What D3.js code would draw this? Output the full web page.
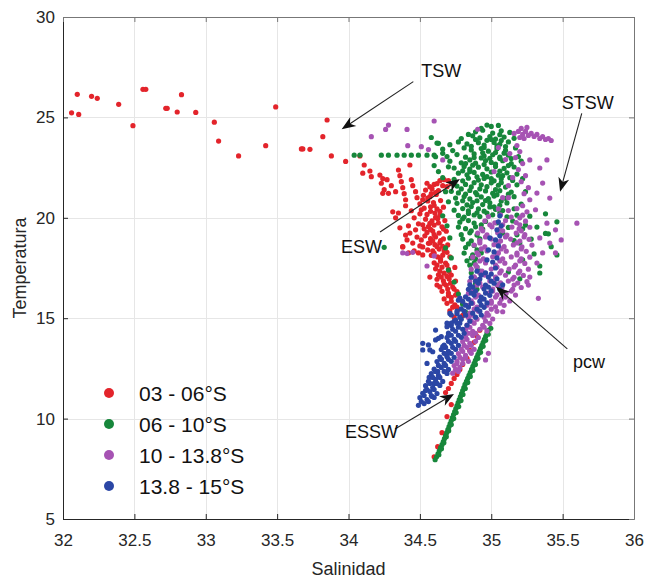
<!DOCTYPE html>
<html>
<head>
<meta charset="utf-8">
<script src="https://cdn.jsdelivr.net/npm/d3@7"></script>
<style>
  body { margin: 0; background: #fff; }
  text { font-family: "Liberation Sans", Arial, Helvetica, sans-serif; }
</style>
</head>
<body>
<svg id="chart" width="645" height="578"></svg>
<script>
// Axis ticks
const salinityTicks = [32, 32.5, 33, 33.5, 34, 34.5, 35, 35.5, 36];
const temperatureTicks = [5, 10, 15, 20, 25, 30];

// Latitude bands shown in the legend
const bandLabels = ["03 - 06°S", "06 - 10°S", "10 - 13.8°S", "13.8 - 15°S"];
const bandColors = ["#e3242b", "#17873b", "#a653b3", "#2b46a5"];

// [salinity, temperature] observations, 03 - 06°S
const band03to06 = [
  [32.06,25.23],[32.10,26.15],[32.11,25.15],[32.20,26.05],[32.24,25.95],[32.39,25.65],[32.49,24.59],
  [32.56,26.40],[32.58,26.40],[32.72,25.45],[32.73,25.45],[32.80,25.27],[32.83,26.13],[32.93,25.25],
  [33.06,24.76],[33.09,23.82],[33.23,23.08],[33.42,23.59],[33.49,25.52],[33.67,23.43],[33.68,23.43],
  [33.73,23.41],[33.82,24.04],[33.85,24.87],[33.88,23.08],[33.98,22.81],
  [34.08,23.08],[34.11,22.63],[34.10,22.22],[34.15,22.33],[34.16,22.05],[34.22,22.13],[34.24,21.95],
  [34.23,21.72],[34.25,21.40],[34.24,21.22],[34.28,21.22],[34.27,21.90],[34.30,21.60],[34.33,21.30],
  [34.35,22.38],[34.36,22.10],[34.37,21.80],[34.38,21.50],[34.39,21.20],[34.40,20.90],[34.43,22.63],
  [34.44,21.90],[34.45,21.60],[34.47,21.30],[34.48,21.00],[34.50,20.70],[34.51,20.40],
  [34.31,20.30],[34.35,20.24],[34.33,20.00],[34.40,19.14],[34.41,18.90],[34.38,18.56],[34.43,19.24],
  [34.45,18.74],[34.48,19.04],[34.42,18.25],[34.49,18.25],[34.52,18.55],[34.57,18.75],[34.51,18.90],
  [34.42,19.60],[34.46,20.00],[34.49,19.70],[34.36,19.50],[34.38,18.55],[34.52,18.15],[34.57,17.05],
  [34.62,16.65],[34.47,19.40],[34.44,20.35],[34.40,20.60],[34.53,19.45],[34.50,18.60],[34.46,18.35],
  [34.55,21.72],[34.60,21.66],[34.54,21.38],[34.585,21.45],[34.63,21.35],[34.525,21.12],[34.57,21.05],
  [34.615,21.16],[34.555,20.84],[34.595,20.76],[34.645,20.86],[34.53,20.48],[34.575,20.55],[34.62,20.44],
  [34.665,20.53],[34.55,20.17],[34.605,20.24],[34.64,20.13],[34.54,19.93],[34.585,19.85],[34.625,19.95],
  [34.675,19.86],[34.56,19.56],[34.60,19.64],[34.655,19.55],[34.55,19.27],[34.59,19.34],[34.635,19.24],
  [34.685,19.33],[34.575,18.96],[34.61,19.05],[34.665,18.95],[34.56,18.73],[34.605,18.66],[34.64,18.75],
  [34.695,18.65],[34.59,18.36],[34.635,18.44],[34.67,18.35],[34.58,18.13],[34.625,18.05],[34.66,18.14],
  [34.71,18.06],[34.60,17.76],[34.645,17.84],[34.68,17.75],[34.61,17.46],[34.655,17.54],[34.70,17.45],
  [34.745,17.53],[34.63,17.16],[34.67,17.24],[34.72,17.15],[34.62,16.94],[34.665,16.86],[34.705,16.95],
  [34.75,16.85],[34.64,16.56],[34.685,16.64],[34.73,16.55],[34.655,16.34],[34.70,16.25],[34.76,16.33],
  [34.67,15.96],[34.72,16.04],[34.78,15.95],[34.69,15.74],[34.745,15.66],[34.80,15.75],[34.71,15.36],
  [34.77,15.44],[34.74,15.06],[34.80,15.14],
  [34.57,21.55],[34.61,21.25],[34.555,20.98],[34.60,20.62],[34.64,20.32],[34.575,20.32],[34.61,20.02],
  [34.57,19.72],[34.63,19.74],[34.575,19.42],[34.665,19.44],[34.60,19.16],[34.645,18.86],[34.59,18.85],
  [34.62,18.56],[34.66,18.58],[34.60,18.24],[34.69,18.28],[34.645,17.95],[34.62,17.64],[34.69,17.65],
  [34.64,17.34],[34.705,17.32],[34.65,17.05],[34.69,17.08],[34.67,16.72],[34.715,16.74],[34.695,16.45],
  [34.74,16.45],[34.70,16.12],[34.75,16.15],[34.72,15.85],[34.76,15.55],[34.73,15.55],[34.58,21.20],
  [34.52,20.90],[34.50,20.20],[34.52,19.65],[34.535,19.10],[34.555,18.40],
  [34.64,21.85],[34.67,21.90],[34.70,21.85],[34.72,21.70],[34.66,21.60],[34.69,21.55],[34.62,21.70],
  [34.68,11.30],[34.70,11.50],[34.72,11.75],[34.74,12.00],[34.76,12.20],[34.78,12.45],[34.80,12.70],
  [34.83,13.00],[34.85,13.40],[34.88,13.80],[34.90,14.10],[34.92,14.40],[34.60,8.10],[34.625,8.60],
  [34.655,9.30],[34.69,10.10],[34.72,10.70]
];

// [salinity, temperature] observations, 06 - 10°S
const band06to10 = [
  [34.04,23.12],[34.08,23.12],[34.23,23.12],[34.28,23.12],[34.34,23.12],[34.39,23.12],[34.44,23.12],
  [34.49,23.12],[34.55,23.12],[34.60,23.12],[34.25,18.53],
  [34.63,23.71],[34.61,23.04],[34.66,23.21],[34.70,22.54],
  [34.97,24.62],[35.00,24.55],[35.05,24.60],[34.93,24.45],
  [34.89,24.28],[34.94,24.36],[35.01,24.22],[35.07,24.33],[35.13,24.25],[34.84,24.15],
  [34.58,24.00],[34.79,23.95],[34.87,24.08],[34.92,23.98],[34.99,24.05],[35.03,23.92],[35.09,24.02],[35.16,23.96],
  [34.62,23.72],[34.71,23.64],[34.77,23.78],[34.83,23.68],[34.91,23.74],[34.95,23.62],[35.02,23.75],[35.06,23.66],[35.12,23.78],
  [34.66,23.42],[34.73,23.35],[34.81,23.48],[34.86,23.38],[34.93,23.45],[34.98,23.32],[35.04,23.44],[35.10,23.36],[35.17,23.48],
  [34.69,23.05],[34.76,23.15],[34.82,23.02],[34.88,23.18],[34.95,23.08],[35.01,23.14],[35.06,23.02],[35.12,23.12],[35.19,23.05],
  [34.71,22.82],[34.79,22.74],[34.85,22.88],[34.89,22.72],[34.96,22.85],[35.00,22.76],[35.08,22.84],[35.14,22.70],[35.21,22.82],
  [34.74,22.48],[34.81,22.56],[34.85,22.42],[34.91,22.52],[34.97,22.44],[35.03,22.55],[35.09,22.46],[35.16,22.53],
  [34.77,22.22],[34.83,22.14],[34.88,22.26],[34.94,22.16],[35.00,22.28],[35.05,22.12],[35.11,22.24],[35.18,22.18],
  [34.74,21.92],[34.80,21.84],[34.84,21.97],[34.91,21.88],[34.95,21.96],[35.02,21.84],[35.07,21.94],[35.15,21.86],[35.22,21.95],
  [34.76,21.58],[34.82,21.66],[34.86,21.54],[34.93,21.64],[34.97,21.55],[35.05,21.62],[35.10,21.53],[35.18,21.64],
  [34.72,21.32],[34.77,21.24],[34.85,21.36],[34.89,21.26],[34.96,21.34],[35.01,21.22],[35.06,21.35],[35.14,21.28],[35.24,21.30],
  [34.75,20.98],[34.81,21.06],[34.85,20.94],[34.93,21.04],[34.98,20.95],[35.02,21.08],[35.10,20.97],[35.16,21.05],
  [34.76,20.72],[34.83,20.64],[34.87,20.76],[34.94,20.66],[34.99,20.75],[35.06,20.62],[35.11,20.74],[35.21,20.68],
  [34.74,20.38],[34.80,20.46],[34.84,20.35],[34.91,20.44],[34.95,20.33],[35.03,20.42],[35.08,20.36],[35.16,20.45],
  [34.77,20.12],[34.81,20.04],[34.88,20.14],[34.92,20.06],[35.01,20.15],[35.11,20.05],[35.18,20.13],[35.27,20.08],
  [34.78,19.78],[34.84,19.86],[34.88,19.74],[34.96,19.82],[35.04,19.75],[35.15,19.84],[35.46,19.80],
  [34.77,19.54],[34.82,19.46],[34.89,19.55],[34.94,19.44],[35.12,19.52],[35.22,19.45],[35.32,19.54],
  [34.79,19.16],[34.85,19.25],[34.90,19.14],[35.08,19.24],[35.18,19.15],[35.38,19.22],
  [34.80,18.94],[34.86,18.85],[34.92,18.95],[35.16,18.86],[35.28,18.94],
  [34.82,18.52],[34.88,18.62],[35.42,18.56],
  [34.81,18.24],[34.87,18.15],[34.93,18.25],[35.30,18.20],
  [34.83,17.86],[34.89,17.95],[35.22,17.90],
  [34.85,17.64],[34.90,17.55],[35.34,17.60],
  [34.86,17.26],[34.92,17.35],[35.12,17.30],
  [34.88,17.04],[35.20,16.96],[34.89,16.72],[35.05,16.66],[34.90,16.44],
  [34.86,23.56],[34.94,23.24],[35.04,23.58],[34.99,22.96],[34.87,22.62],[34.93,22.98],[35.06,22.32],
  [34.80,22.34],[34.90,22.04],[35.00,21.74],[34.79,21.44],[34.92,21.44],[35.03,21.40],[34.82,21.18],
  [34.96,20.86],[35.07,20.84],[34.86,20.56],[34.99,20.54],[34.84,20.22],[34.97,20.24],[35.12,21.18],
  [35.13,22.00],[35.03,22.68],[35.09,23.22],[34.97,23.86],[35.06,24.14],
  [34.89,23.90],[34.95,23.50],[35.00,23.90],[35.07,23.85],[35.10,23.55],[34.88,23.00],[35.03,23.25],
  [35.14,22.95],[34.82,22.70],[34.95,22.65],[35.06,22.95],[35.12,22.60],[34.85,22.30],[34.97,22.05],
  [35.08,22.10],[34.88,21.75],[35.00,21.95],[35.07,21.75],[34.90,21.15],[35.04,21.15],[34.80,20.85],
  [34.90,20.85],[35.02,20.55],[34.90,20.25],[35.06,20.25],[34.80,19.95],[34.93,19.65],[34.86,19.35],
  [34.84,18.70],[34.90,18.40],[34.86,18.00],[34.88,17.75],
  [34.60,22.60],[34.63,22.30],[34.66,22.00],[34.68,21.30],[34.70,20.80],[34.66,20.10],[34.69,19.60],
  [34.71,19.00],[34.68,18.50],[34.72,18.00],[34.70,17.40],[34.74,16.80],[34.77,16.20],[34.80,15.70],
  [34.82,15.30],
  [35.40,19.20],[35.38,20.20],[35.24,19.64],[35.46,18.15],[35.20,18.74],[35.34,17.25],
  [34.607,7.95],[34.617,8.10],[34.627,8.25],[34.636,8.40],[34.645,8.55],[34.655,8.70],[34.664,8.85],
  [34.672,9.00],[34.680,9.15],[34.688,9.30],[34.696,9.45],[34.704,9.60],[34.712,9.75],[34.720,9.90],
  [34.728,10.05],[34.736,10.20],[34.744,10.35],[34.752,10.50],[34.760,10.65],[34.768,10.80],[34.776,10.95],
  [34.784,11.10],[34.792,11.25],[34.800,11.40],[34.808,11.55],[34.816,11.70],[34.826,11.85],[34.835,12.00],
  [34.844,12.15],[34.853,12.30],[34.862,12.45],[34.871,12.60],[34.880,12.75],[34.889,12.90],[34.898,13.05],
  [34.907,13.20],[34.916,13.35],[34.925,13.50],[34.934,13.65],[34.943,13.80],[34.952,13.95],[34.961,14.10],
  [34.970,14.25],[34.979,14.40],
  [34.633,8.20],[34.651,8.50],[34.668,8.80],[34.685,9.10],[34.702,9.40],[34.720,9.70],[34.737,10.00],
  [34.754,10.30],[34.772,10.60],[34.788,10.90],[34.802,11.20],[34.818,11.50],[34.835,11.80],[34.853,12.10],
  [34.871,12.40],[34.889,12.70],[34.907,13.00],[34.925,13.30],[34.943,13.60],[34.961,13.90],[34.979,14.20],
  [34.997,14.50]
];

// [salinity, temperature] observations, 10 - 13.8°S
const band10to13 = [
  [34.16,24.04],[34.26,24.40],[34.28,24.62],[34.41,24.40],[34.415,23.59],[34.51,23.54],[34.60,24.82],
  [34.66,22.88],[34.905,24.41],[34.56,23.40],
  [34.38,18.25],[34.41,18.22],[34.45,18.28],[34.55,17.60],[34.60,18.10],
  [35.05,23.50],[35.10,22.90],[35.02,22.30],[35.12,21.60],[35.08,21.00],
  [35.16,24.20],[35.19,24.30],[35.21,24.45],[35.22,24.15],[35.24,24.30],[35.26,24.10],[35.28,24.20],
  [35.30,24.05],[35.32,24.15],[35.34,23.95],[35.36,24.05],[35.38,23.90],[35.40,23.95],[35.42,23.85],
  [35.25,24.50],[35.23,23.95],[35.20,24.00],
  [35.18,23.60],[35.20,23.30],[35.17,23.00],[35.22,22.70],[35.19,22.40],[35.24,22.10],[35.21,21.80],
  [35.26,21.50],[35.23,21.20],[35.27,20.90],[35.22,20.60],[35.25,20.30],[35.20,20.00],[35.13,23.20],
  [35.15,22.00],[35.12,21.00],
  [35.27,22.88],[35.34,22.48],[35.39,22.88],[35.36,21.73],[35.32,21.23],[35.41,20.98],[35.31,20.40],
  [35.60,19.73],[35.49,18.90],[35.45,18.25],[35.39,19.73],[35.45,19.40],[35.34,19.00],[35.41,18.74],
  [35.36,18.25],[35.32,17.75],[35.27,17.05],[35.25,16.82],[35.33,15.99],[35.26,16.65],[35.08,15.32],
  [34.98,13.25],[34.96,12.92],
  [35.05,20.44],[35.12,20.36],[35.18,20.46],
  [34.98,20.06],[35.065,20.15],[35.14,20.04],[35.22,20.13],
  [34.955,19.84],[35.025,19.75],[35.10,19.86],[35.175,19.76],[35.24,19.83],
  [34.93,19.46],[35.005,19.55],[35.06,19.44],[35.145,19.54],[35.195,19.45],[35.27,19.53],
  [34.905,19.24],[34.97,19.15],[35.045,19.25],[35.11,19.14],[35.175,19.24],[35.235,19.16],
  [34.92,18.86],[35.00,18.95],[35.065,18.85],[35.135,18.94],[35.20,18.84],[35.265,18.93],
  [34.88,18.64],[34.955,18.55],[35.02,18.66],[35.09,18.56],[35.155,18.65],[35.215,18.55],[35.285,18.64],
  [34.90,18.26],[34.97,18.35],[35.05,18.25],[35.105,18.34],[35.18,18.24],[35.245,18.33],
  [34.87,18.04],[34.945,17.95],[35.01,18.06],[35.08,17.96],[35.14,18.05],[35.21,17.95],[35.27,18.04],
  [34.89,17.66],[34.96,17.75],[35.03,17.65],[35.095,17.74],[35.17,17.64],[35.235,17.73],
  [34.86,17.44],[34.935,17.35],[35.00,17.45],[35.07,17.36],[35.125,17.45],[35.20,17.35],[35.26,17.44],
  [34.88,17.06],[34.955,17.15],[35.03,17.05],[35.10,17.14],[35.16,17.04],[35.225,17.13],
  [34.85,16.84],[34.92,16.75],[34.99,16.85],[35.065,16.76],[35.12,16.85],[35.185,16.75],
  [34.87,16.46],[34.94,16.55],[35.01,16.45],[35.075,16.54],[35.15,16.44],[35.21,16.53],
  [34.84,16.24],[34.91,16.15],[34.98,16.25],[35.04,16.16],[35.105,16.25],[35.17,16.15],
  [34.86,15.86],[34.93,15.95],[35.00,15.85],[35.07,15.94],[35.13,15.86],
  [34.84,15.64],[34.90,15.55],[34.97,15.65],[35.03,15.56],[35.09,15.64],
  [34.85,15.26],[34.91,15.35],[34.97,15.25],[35.04,15.34],
  [34.84,15.04],[34.90,14.95],[34.95,15.05],[35.01,14.96],
  [34.83,14.66],[34.88,14.75],[34.94,14.65],[34.99,14.74],
  [34.82,14.44],[34.87,14.35],[34.92,14.45],[34.97,14.36],
  [34.82,14.06],[34.87,14.14],[34.91,14.04],
  [34.80,13.84],[34.85,13.75],[34.89,13.85],
  [34.79,13.46],[34.83,13.55],[34.88,13.45],
  [34.77,13.24],[34.82,13.15],[34.86,13.25],
  [34.76,12.86],[34.80,12.95],[34.84,12.85],
  [34.74,12.64],[34.78,12.55],[34.73,12.26],[34.77,12.35],
  [34.99,19.65],[35.08,19.65],[35.20,19.65],[34.94,19.35],[35.08,19.35],[35.21,19.35],[34.96,19.05],
  [35.10,19.05],[35.23,19.05],[34.92,18.75],[35.05,18.75],[35.18,18.75],[34.93,18.45],[35.07,18.45],
  [35.21,18.45],[34.91,18.15],[35.04,18.15],[35.18,18.15],[34.92,17.85],[35.06,17.85],[35.20,17.85],
  [34.90,17.55],[35.04,17.55],[35.16,17.55],[34.92,17.25],[35.06,17.25],[35.19,17.25],[34.89,16.95],
  [35.03,16.95],[35.15,16.95],[34.90,16.65],[35.04,16.65],[35.16,16.65],[34.88,16.35],[35.01,16.35],
  [35.14,16.35],[34.89,16.05],[35.03,16.05],[35.10,16.05],[34.87,15.75],[35.00,15.75],[35.06,15.75],
  [34.88,15.45],[35.00,15.45],[34.87,15.15],[34.98,15.15],[34.86,14.85],[34.96,14.85],[34.85,14.55],
  [34.95,14.55],[34.84,14.25],[34.89,14.25],[34.83,13.95],[34.81,13.65],[34.86,13.65],[34.80,13.35],
  [34.85,13.35],[34.78,13.05],[34.82,13.05],[34.76,12.75],[34.80,12.75],[34.75,12.45]
];

// [salinity, temperature] observations, 13.8 - 15°S
const band13to15 = [
  [35.06,20.10],[35.05,19.80],[35.07,19.60],[35.04,19.40],[35.06,19.10],[35.03,18.90],[35.05,18.60],
  [35.02,18.30],[35.04,18.00],[35.01,17.80],[35.03,17.50],[34.99,19.00],[34.98,18.40],[34.97,17.90],
  [35.00,17.20],
  [34.90,17.34],[34.96,17.26],
  [34.86,17.04],[34.92,16.95],[34.98,17.05],[35.04,16.96],
  [34.85,16.66],[34.91,16.75],[34.96,16.65],[35.02,16.74],[35.08,16.66],
  [34.84,16.44],[34.89,16.35],[34.95,16.45],[35.00,16.36],[35.06,16.44],
  [34.82,16.06],[34.88,16.15],[34.93,16.05],[34.99,16.14],
  [34.80,15.84],[34.86,15.75],[34.92,15.85],[34.97,15.76],
  [34.79,15.46],[34.84,15.55],[34.90,15.45],[34.95,15.54],
  [34.76,15.24],[34.82,15.15],[34.87,15.25],[34.93,15.16],
  [34.74,14.86],[34.79,14.95],[34.85,14.85],
  [34.72,14.64],[34.77,14.55],[34.83,14.65],
  [34.70,14.26],[34.75,14.35],[34.81,14.25],
  [34.69,14.04],[34.74,13.95],[34.79,14.05],
  [34.67,13.66],[34.72,13.75],[34.77,13.65],
  [34.65,13.44],[34.70,13.35],[34.75,13.45],
  [34.64,13.06],[34.69,13.15],[34.74,13.05],
  [34.62,12.84],[34.67,12.75],[34.72,12.85],
  [34.60,12.46],[34.65,12.55],[34.70,12.45],
  [34.58,12.24],[34.63,12.15],[34.69,12.25],
  [34.56,11.86],[34.61,11.95],[34.66,11.85],
  [34.54,11.64],[34.59,11.55],[34.64,11.65],
  [34.52,11.26],[34.57,11.35],[34.62,11.25],
  [34.50,11.04],[34.55,10.95],[34.60,11.05],
  [34.49,10.66],[34.53,10.75],
  [34.585,11.10],[34.60,11.75],[34.625,12.35],[34.65,12.95],[34.675,13.55],[34.70,14.15],[34.72,14.75],
  [34.76,15.35],[34.78,16.00],[34.54,11.40],[34.565,12.05],
  [34.93,17.15],[34.89,16.85],[35.00,16.85],[34.87,16.55],[34.98,16.55],[34.86,16.25],[34.96,16.25],
  [34.84,15.95],[34.95,15.95],[34.82,15.65],[34.93,15.65],[34.81,15.35],[34.92,15.35],[34.78,15.05],
  [34.89,15.05],[34.76,14.75],[34.80,14.45],[34.73,14.45],[34.72,14.15],[34.77,14.15],[34.70,13.85],
  [34.75,13.85],[34.68,13.55],[34.73,13.55],[34.67,13.25],[34.72,13.25],[34.65,12.95],[34.70,12.95],
  [34.63,12.65],[34.68,12.65],[34.61,12.35],[34.67,12.35],[34.59,12.05],[34.64,12.05],[34.57,11.75],
  [34.62,11.75],[34.55,11.45],[34.60,11.45],[34.53,11.15],[34.58,11.15],[34.51,10.85],[34.56,10.85],
  [34.52,13.42],[34.56,13.67],[34.61,13.92],[34.65,14.08],[34.69,14.75],[34.71,15.24],[34.75,14.91],
  [34.59,13.33],[34.77,15.90],[34.52,13.75],[34.61,14.41],[34.69,14.58],[34.72,15.16],[34.78,14.75],
  [34.63,14.00],[34.66,13.58],[34.57,13.42],[34.69,13.08],[34.55,12.75]
];

const allBands = [band03to06, band06to10, band10to13, band13to15];

// Water-mass annotations: label position and arrow, in data units
const waterMasses = [
  { name: "TSW",  text: [34.51, 27.01], tail: [34.454, 26.78], tip: [33.952, 24.41] },
  { name: "STSW", text: [35.494, 25.44], tail: [35.634, 25.20], tip: [35.482, 21.30] },
  { name: "ESW",  text: [33.947, 18.25], tail: [34.221, 19.29], tip: [34.781, 21.93] },
  { name: "pcw",  text: [35.573, 12.50], tail: [35.533, 13.47], tip: [35.033, 16.57] },
  { name: "ESSW", text: [33.975, 9.03],  tail: [34.326, 9.48],  tip: [34.739, 11.23] }
];

const svg = d3.select("#chart");
const margin = { left: 63, top: 17, right: 11, bottom: 59 };
const W = 645, H = 578;

const x = d3.scaleLinear().domain([32, 36]).range([margin.left, W - margin.right]);
const y = d3.scaleLinear().domain([5, 30]).range([H - margin.bottom, margin.top]);

svg.append("rect").attr("width", W).attr("height", H).attr("fill", "#fff");

// Grid
const grid = svg.append("g").attr("stroke", "#e6e6e6").attr("stroke-width", 1);
grid.selectAll("line.gx").data(salinityTicks.slice(1, -1)).join("line")
  .attr("x1", d => Math.round(x(d)) + 0.5).attr("x2", d => Math.round(x(d)) + 0.5)
  .attr("y1", y(30)).attr("y2", y(5));
grid.selectAll("line.gy").data(temperatureTicks.slice(1, -1)).join("line")
  .attr("y1", d => Math.round(y(d)) + 0.5).attr("y2", d => Math.round(y(d)) + 0.5)
  .attr("x1", x(32)).attr("x2", x(36));

// Scatter points, one layer per latitude band
allBands.forEach((pts, i) => {
  svg.append("g").attr("fill", bandColors[i])
    .selectAll("circle").data(pts).join("circle")
    .attr("cx", d => x(d[0])).attr("cy", d => y(d[1])).attr("r", 2.6);
});

// Axes with inward ticks
function styleAxis(g, color) {
  g.select(".domain").attr("stroke", color);
  g.selectAll(".tick line").attr("stroke", color);
  g.selectAll(".tick text").attr("fill", "#262626").attr("font-size", 17);
}
svg.append("g").attr("transform", `translate(0,${y(5)})`)
  .call(d3.axisBottom(x).tickValues(salinityTicks).tickFormat(d => d).tickSizeInner(-5).tickSizeOuter(0).tickPadding(15))
  .call(g => styleAxis(g, "#262626"));
svg.append("g").attr("transform", `translate(${x(32)},0)`)
  .call(d3.axisLeft(y).tickValues(temperatureTicks).tickFormat(d => d).tickSizeInner(-5).tickSizeOuter(0).tickPadding(8))
  .call(g => styleAxis(g, "#262626"));
svg.append("g").attr("transform", `translate(0,${y(30)})`)
  .call(d3.axisTop(x).tickValues(salinityTicks).tickFormat("").tickSizeInner(-5).tickSizeOuter(0))
  .call(g => styleAxis(g, "#777"));
svg.append("g").attr("transform", `translate(${x(36)},0)`)
  .call(d3.axisRight(y).tickValues(temperatureTicks).tickFormat("").tickSizeInner(-5).tickSizeOuter(0))
  .call(g => styleAxis(g, "#777"));

// Axis titles
svg.append("text").attr("x", (x(32) + x(36)) / 2).attr("y", 575)
  .attr("text-anchor", "middle").attr("font-size", 18).attr("fill", "#262626").text("Salinidad");
svg.append("text").attr("transform", `translate(26,${(y(5) + y(30)) / 2}) rotate(-90)`)
  .attr("text-anchor", "middle").attr("font-size", 18).attr("fill", "#262626").text("Temperatura");

// Annotation arrows
const ann = svg.append("g");
waterMasses.forEach(m => {
  const x0 = x(m.tail[0]), y0 = y(m.tail[1]);
  const x1 = x(m.tip[0]), y1 = y(m.tip[1]);
  const len = Math.hypot(x1 - x0, y1 - y0);
  const ux = (x1 - x0) / len, uy = (y1 - y0) / len;
  const nx = -uy, ny = ux;
  const L = 14, Wd = 5.5, back = 4;
  ann.append("line").attr("x1", x0).attr("y1", y0)
    .attr("x2", x1 - ux * (L - back)).attr("y2", y1 - uy * (L - back))
    .attr("stroke", "#222").attr("stroke-width", 1.1);
  const head = [
    [x1, y1],
    [x1 - ux * L + nx * Wd, y1 - uy * L + ny * Wd],
    [x1 - ux * (L - back), y1 - uy * (L - back)],
    [x1 - ux * L - nx * Wd, y1 - uy * L - ny * Wd]
  ];
  ann.append("path").attr("d", "M" + head.map(p => p.join(",")).join("L") + "Z").attr("fill", "#111");
  ann.append("text").attr("x", x(m.text[0])).attr("y", y(m.text[1]))
    .attr("font-size", 18).attr("fill", "#111").text(m.name);
});

// Legend
const legend = svg.append("g");
bandLabels.forEach((label, i) => {
  legend.append("circle").attr("cx", 109).attr("cy", 393 + i * 31).attr("r", 5).attr("fill", bandColors[i]);
  legend.append("text").attr("x", 139).attr("y", 393 + i * 31).attr("dy", "0.36em")
    .attr("font-size", 21).attr("fill", "#111").text(label);
});
</script>
</body>
</html>
